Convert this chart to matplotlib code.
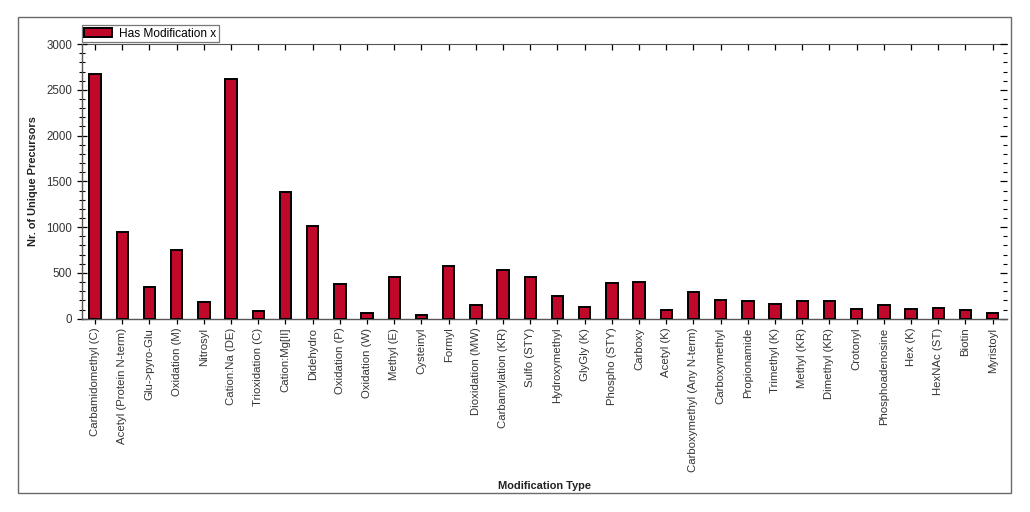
import matplotlib
matplotlib.use("Agg")
import matplotlib.pyplot as plt
from matplotlib.patches import Rectangle
from matplotlib.ticker import MultipleLocator

# Data
modifications = [
    "Carbamidomethyl (C)", "Acetyl (Protein N-term)", "Glu->pyro-Glu", "Oxidation (M)",
    "Nitrosyl", "Cation:Na (DE)", "Trioxidation (C)", "Cation:Mg[II]", "Didehydro",
    "Oxidation (P)", "Oxidation (W)", "Methyl (E)", "Cysteinyl", "Formyl",
    "Dioxidation (MW)", "Carbamylation (KR)", "Sulfo (STY)", "Hydroxymethyl",
    "GlyGly (K)", "Phospho (STY)", "Carboxy", "Acetyl (K)", "Carboxymethyl (Any N-term)",
    "Carboxymethyl", "Propionamide", "Trimethyl (K)", "Methyl (KR)", "Dimethyl (KR)",
    "Crotonyl", "Phosphoadenosine", "Hex (K)", "HexNAc (ST)", "Biotin", "Myristoyl",
]
precursors = [
    2672, 944, 346, 754, 182, 2621, 84, 1384, 1012, 382, 62, 455, 37, 575,
    146, 535, 455, 248, 128, 387, 397, 98, 288, 207, 190, 164, 197, 190,
    109, 146, 109, 120, 98, 59,
]
series_name = "Has Modification x"

plt.rcParams['font.family'] = ['Liberation Sans', 'DejaVu Sans']

fig = plt.figure(figsize=(10.3, 5.12), dpi=100)
ax = fig.add_axes([0.0796, 0.3775, 0.8984, 0.5365])

# outer frame round the whole chart
fig.patches.append(Rectangle((18 / 1030, 1 - 493 / 512), 993 / 1030, 476 / 512,
                             transform=fig.transFigure, fill=False,
                             edgecolor='#6a6a6a', linewidth=1.0))

x = list(range(len(modifications)))
ax.bar(x, precursors, width=0.42, color='#c0082a', edgecolor='black',
       linewidth=1.4, label=series_name, zorder=3)

ax.set_xlim(-0.48, len(modifications) - 1 + 0.54)
ax.set_ylim(0, 3000)
ax.set_xticks(x)
ax.set_xticklabels(modifications, rotation=90, fontsize=8.2, color='#333333')
ax.yaxis.set_major_locator(MultipleLocator(500))
ax.yaxis.set_minor_locator(MultipleLocator(100))
ax.tick_params(axis='y', which='major', direction='inout', length=7, width=0.9,
               labelsize=8.3, labelcolor='#333333')
ax.tick_params(axis='y', which='minor', direction='inout', length=4, width=0.8)
ax.tick_params(axis='x', direction='inout', length=7, width=0.9, pad=3)

# inward ticks on top and right, like the original
top = ax.secondary_xaxis('top')
top.set_xticks(x)
top.tick_params(direction='in', length=4, width=0.9, labeltop=False)
top.spines['top'].set_color('#555555')
right = ax.secondary_yaxis('right')
right.yaxis.set_major_locator(MultipleLocator(500))
right.yaxis.set_minor_locator(MultipleLocator(100))
right.tick_params(which='major', direction='in', length=5, width=0.9, labelright=False)
right.tick_params(which='minor', direction='in', length=3, width=0.8)
right.spines['right'].set_visible(False)

ax.spines['right'].set_visible(False)
ax.spines['top'].set_visible(False)
for s in ['left', 'bottom']:
    ax.spines[s].set_color('#555555')
    ax.spines[s].set_linewidth(1.0)

ax.set_ylabel("Nr. of Unique Precursors", fontsize=7.9, fontweight='bold', color='#222222')
ax.yaxis.set_label_coords(-0.047, 0.5)
ax.set_xlabel("Modification Type", fontsize=7.9, fontweight='bold', color='#222222')
ax.xaxis.set_label_coords(0.5, -0.59)

leg = ax.legend(loc='lower left', bbox_to_anchor=(-0.002, 1.0), fontsize=8.6,
                frameon=True, fancybox=False, borderpad=0.2, handlelength=2.3,
                handleheight=0.8, borderaxespad=0.15, handletextpad=0.6)
leg.get_frame().set_edgecolor('#555555')
leg.get_frame().set_linewidth(0.9)

fig.savefig("out.png", dpi=100)
